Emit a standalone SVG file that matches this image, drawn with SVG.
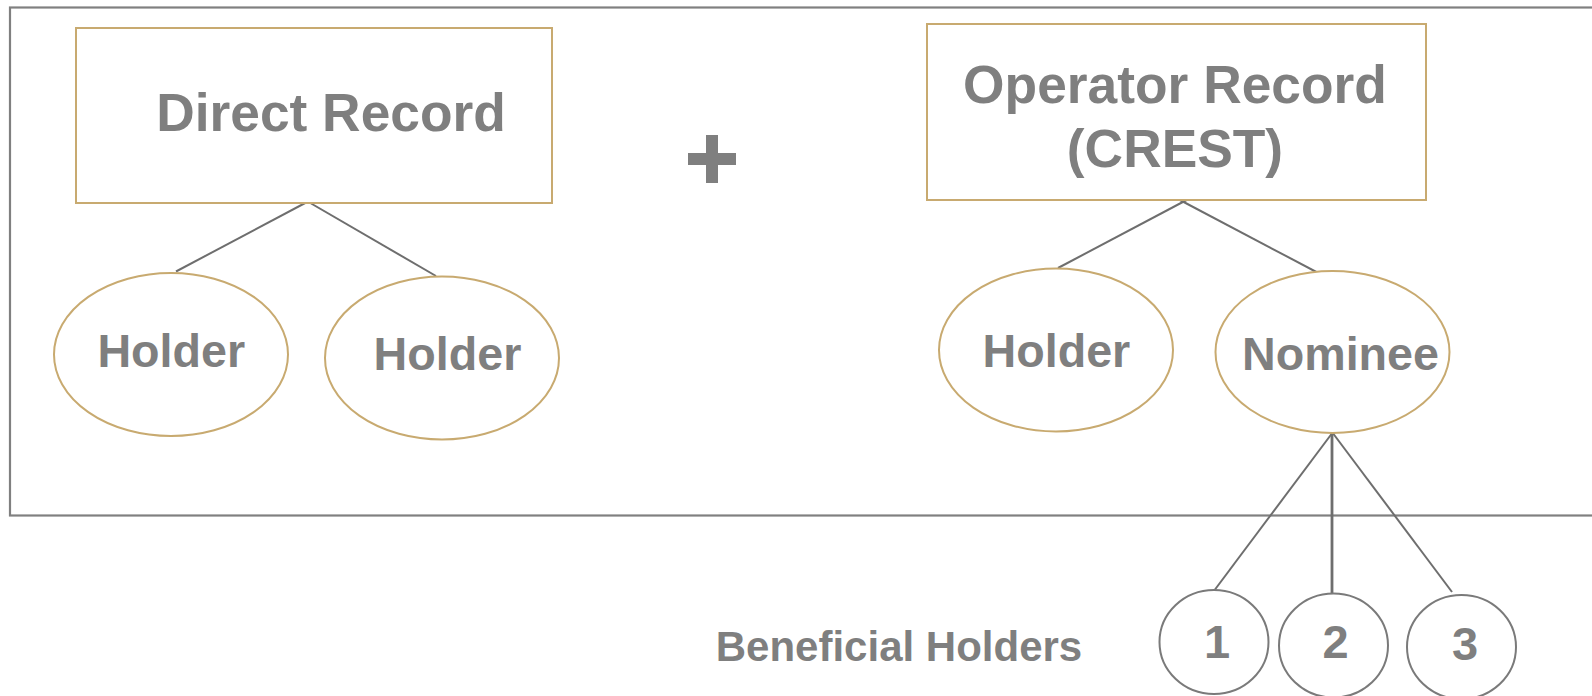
<svg xmlns="http://www.w3.org/2000/svg" width="1592" height="696" viewBox="0 0 1592 696">
  <style>
    .frame { fill: none; stroke: #808080; stroke-width: 2.2; }
    .box { fill: #ffffff; stroke: #C8AA70; stroke-width: 2; }
    .oval { fill: #ffffff; stroke: #C8AA70; stroke-width: 2; }
    .bh { fill: #ffffff; stroke: #7A7A7A; stroke-width: 2; }
    .link { fill: none; stroke: #6E6E6E; stroke-width: 2; }
    .lbl { font-family: "Liberation Sans", Arial, sans-serif; font-weight: bold; fill: #7F7F7F; text-anchor: middle; }
    .big { font-size: 53.33px; }
    .mid { font-size: 46.67px; }
    .num { font-size: 47px; }
    .cap { font-size: 42px; }
  </style>

  <rect width="1592" height="696" fill="#ffffff"/>

  <!-- outer container, open on the right edge -->
  <rect class="frame" x="10" y="7.5" width="1600" height="508"/>

  <!-- connectors -->
  <g id="connectors">
    <line class="link" x1="308" y1="201.5" x2="176" y2="271.5"/>
    <line class="link" x1="306" y1="200.5" x2="436" y2="276"/>
    <line class="link" x1="1188.5" y1="199" x2="1058" y2="268"/>
    <line class="link" x1="1178" y1="199" x2="1324" y2="276"/>
    <line class="link" x1="1333" y1="432" x2="1215" y2="589.5"/>
    <line class="link" x1="1332" y1="432" x2="1332" y2="593.5" style="stroke-width:2.8"/>
    <line class="link" x1="1332" y1="432" x2="1452" y2="592"/>
  </g>

  <g id="direct-record">
    <rect class="box" x="76" y="28" width="476" height="175"/>
    <text class="lbl big" x="331" y="131">Direct Record</text>
  </g>

  <g id="plus">
    <rect x="706" y="135" width="12" height="48" fill="#7F7F7F"/>
    <rect x="688" y="153" width="48" height="12" fill="#7F7F7F"/>
  </g>

  <g id="operator-record">
    <rect class="box" x="927" y="24" width="499" height="176"/>
    <text class="lbl big" x="1175" y="103">Operator Record</text>
    <text class="lbl big" x="1175" y="167">(CREST)</text>
  </g>

  <g id="holder-1">
    <ellipse class="oval" cx="171" cy="354.5" rx="117" ry="81.5"/>
    <text class="lbl mid" x="171.3" y="367">Holder</text>
  </g>

  <g id="holder-2">
    <ellipse class="oval" cx="442" cy="358" rx="117" ry="81.5"/>
    <text class="lbl mid" x="447.5" y="370">Holder</text>
  </g>

  <g id="holder-3">
    <ellipse class="oval" cx="1056" cy="350" rx="117" ry="81.5"/>
    <text class="lbl mid" x="1056.4" y="367">Holder</text>
  </g>

  <g id="nominee">
    <ellipse class="oval" cx="1332.5" cy="352" rx="117" ry="81"/>
    <text class="lbl mid" x="1340.5" y="369.5">Nominee</text>
  </g>

  <g id="beneficial-label">
    <text class="lbl cap" x="899" y="661">Beneficial Holders</text>
  </g>

  <g id="beneficial-1">
    <ellipse class="bh" cx="1214" cy="642" rx="54.5" ry="52"/>
    <text class="lbl num" x="1217" y="657.5">1</text>
  </g>

  <g id="beneficial-2">
    <ellipse class="bh" cx="1333.5" cy="645.5" rx="54.5" ry="52"/>
    <text class="lbl num" x="1335.5" y="657.5">2</text>
  </g>

  <g id="beneficial-3">
    <ellipse class="bh" cx="1461.5" cy="647" rx="54.5" ry="52"/>
    <text class="lbl num" x="1465" y="660">3</text>
  </g>
</svg>
